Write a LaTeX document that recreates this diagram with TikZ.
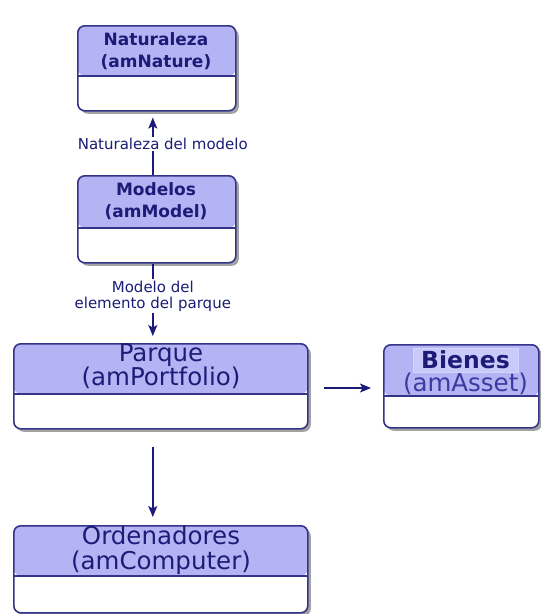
\documentclass[tikz,border=0pt]{standalone}
\usepackage{fontspec}
\setmainfont{DejaVu Sans}
\usetikzlibrary{shadows,arrows.meta}
\definecolor{hdr}{HTML}{B4B4F4}
\definecolor{hdrlight}{HTML}{CACAFA}
\definecolor{navy}{HTML}{1C1C78}
\definecolor{edge}{HTML}{34348A}
\definecolor{lightnavy}{HTML}{3A3AA0}
\tikzset{
  umlbox/.style={draw=edge, line width=1.6pt, rounded corners=7pt, fill=white,
    anchor=north west, inner sep=0pt,
    drop shadow={shadow xshift=3pt, shadow yshift=-3pt, fill=black!60, opacity=0.6},
    path picture={
      \fill[hdr] (path picture bounding box.north west) rectangle ([yshift=-#1]path picture bounding box.north east);
      \draw[edge, line width=1.5pt] ([yshift=-#1]path picture bounding box.north west) -- ([yshift=-#1]path picture bounding box.north east);
    }},
  umlbox/.default=50pt,
  smalltitle/.style={text=navy, align=center, font=\bfseries\fontsize{17}{22}\selectfont},
  bigtitle/.style={text=navy, align=center, font=\fontsize{24.5}{24}\selectfont},
  linklabel/.style={text=navy, align=center, fill=white, inner sep=1.5pt, font=\fontsize{15}{16.5}\selectfont},
  link/.style={draw=navy, line width=1.4pt, -{Stealth[length=11pt, width=9pt, inset=2.5pt]}},
}
\begin{document}
\begin{tikzpicture}[x=1pt, y=-1pt]
\useasboundingbox (0,0) rectangle (541,614);
% boxes
\node[umlbox=50pt, minimum width=158pt, minimum height=85pt] (nat) at (77,25) {};
\node[umlbox=52pt, minimum width=158pt, minimum height=87pt] (mod) at (77,175) {};
\node[umlbox=50pt, minimum width=294pt, minimum height=85pt] (par) at (13,343) {};
\node[umlbox=51pt, minimum width=155pt, minimum height=83pt] (bie) at (383,344) {};
\node[umlbox=50pt, minimum width=294pt, minimum height=87pt] (ord) at (13,525) {};
% titles
\node[smalltitle] (natT) at (156,51) {Naturaleza\\(amNature)};
\node[smalltitle] (modT) at (156,201) {Modelos\\(amModel)};
\node[bigtitle] (parT) at (161,366) {Parque\\(amPortfolio)};
\node[bigtitle, font=\fontsize{24.5}{25.5}\selectfont] (ordT) at (161,550) {Ordenadores\\(amComputer)};
\node[fill=hdrlight, draw=hdrlight!80!white, line width=0.6pt, minimum width=105pt, minimum height=24pt, inner sep=0pt,
      text=navy, font=\bfseries\fontsize{23.5}{23}\selectfont] (bieT1) at (465.5,360) {Bienes};
\node[text=lightnavy, font=\fontsize{24.5}{23}\selectfont, inner sep=0pt] (bieT2) at (465.5,384) {(amAsset)};
% connectors
\draw[link, shorten >=6pt] ([xshift=-4pt]mod.north) -- node[linklabel, pos=0.49, xshift=10pt] (lab1) {Naturaleza del modelo} ([xshift=-4pt]nat.south);
\draw[link, shorten >=7pt] ([xshift=-4pt]mod.south) -- node[linklabel, pos=0.41] (lab2) {Modelo del\\elemento del parque} ([xshift=-4pt]mod.south |- par.north);
\draw[link, shorten <=15pt, shorten >=12pt] (par.east |- 0,388) -- (bie.west |- 0,388);
\draw[link, shorten <=17pt, shorten >=8pt] ([xshift=-8pt]par.south) -- ([xshift=-8pt]par.south |- ord.north);
\end{tikzpicture}
\end{document}
